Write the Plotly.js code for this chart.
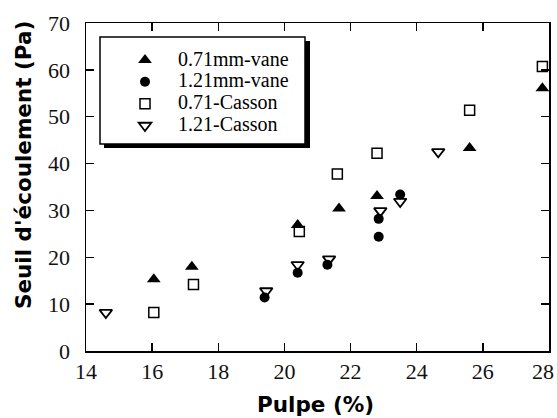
<!DOCTYPE html>
<html>
<head>
<meta charset="utf-8">
<script src="https://cdn.plot.ly/plotly-3.0.1.min.js"></script>
<style>html,body{margin:0;padding:0;background:#fff;}#chart{width:557px;height:418px;}</style>
</head>
<body>
<div id="chart"></div>
<script>
// Data
var seriesNames = ["0.71mm-vane", "1.21mm-vane", "0.71-Casson", "1.21-Casson"];

var vane071X = [16.05, 17.2, 20.4, 21.65, 22.8, 25.6, 27.8];
var vane071Y = [15.3, 18.0, 26.9, 30.4, 33.1, 43.3, 56.1];

var vane121X = [19.4, 20.4, 21.3, 22.85, 22.85, 23.5];
var vane121Y = [11.4, 16.7, 18.4, 24.4, 28.2, 33.4];

var casson071X = [16.05, 17.25, 20.45, 21.6, 22.8, 25.6, 27.8];
var casson071Y = [8.2, 14.2, 25.5, 37.8, 42.2, 51.4, 60.7];

var casson121X = [14.6, 19.45, 20.4, 21.35, 22.9, 23.5, 24.65];
var casson121Y = [8.2, 12.8, 18.4, 19.6, 29.9, 31.9, 42.5];

var xTicks = [14, 16, 18, 20, 22, 24, 26, 28];
var yTicks = [0, 10, 20, 30, 40, 50, 60, 70];
var xTitle = "Pulpe (%)";
var yTitle = "Seuil d'écoulement (Pa)";

// Layout geometry (pixels)
var W = 557, H = 418;
var M = {l: 86, r: 8, t: 23, b: 67};
var PW = W - M.l - M.r, PH = H - M.t - M.b;
function px(x) { return (x - M.l) / PW; }
function py(y) { return (H - M.b - y) / PH; }

var serif = "Liberation Serif, Times New Roman, serif";
var sans = "DejaVu Sans, sans-serif";

function legendLabel(s) {
  return "<span style=\"font-size:20px\">" + s + "</span>";
}

var traces = [
  {x: vane071X, y: vane071Y, name: legendLabel(seriesNames[0]), type: "scatter", mode: "markers",
   marker: {symbol: "triangle-up", size: 12, color: "#000"}, cliponaxis: false},
  {x: vane121X, y: vane121Y, name: legendLabel(seriesNames[1]), type: "scatter", mode: "markers",
   marker: {symbol: "circle", size: 10, color: "#000"}, cliponaxis: false},
  {x: casson071X, y: casson071Y, name: legendLabel(seriesNames[2]), type: "scatter", mode: "markers",
   marker: {symbol: "square-open", size: 10, color: "#000", line: {width: 1.5, color: "#000"}}, cliponaxis: false},
  {x: casson121X, y: casson121Y, name: legendLabel(seriesNames[3]), type: "scatter", mode: "markers",
   marker: {symbol: "triangle-down-open", size: 11, color: "#000", line: {width: 1.8, color: "#000"}}, cliponaxis: false}
];

var axisCommon = {
  showgrid: false, zeroline: false, showline: true, linecolor: "#000", linewidth: 1.5,
  mirror: "ticks", ticks: "inside", ticklen: 8, tickwidth: 1.5, tickcolor: "#000",
  tickfont: {family: serif, size: 22, color: "#111"}
};

// last x tick label is drawn as an annotation so it can sit inside the page edge
var xTickText = xTicks.map(function (v, i) { return i === xTicks.length - 1 ? "" : String(v); });

var layout = {
  width: W, height: H,
  margin: M,
  paper_bgcolor: "#fff", plot_bgcolor: "#fff",
  showlegend: true,
  legend: {
    x: px(100), y: py(44), xanchor: "left", yanchor: "top",
    bgcolor: "rgba(0,0,0,0)", borderwidth: 0,
    font: {family: serif, size: 14.5, color: "#000"},
    itemwidth: 56, indentation: 12, tracegroupgap: 0
  },
  xaxis: Object.assign({}, axisCommon, {range: [14, 28], tickvals: xTicks, ticktext: xTickText}),
  yaxis: Object.assign({}, axisCommon, {range: [0, 70], tickvals: yTicks, ticktext: yTicks.map(String), ticklabelstandoff: 10}),
  shapes: [
    {type: "rect", xref: "paper", yref: "paper", x0: px(104), x1: px(310), y0: py(148), y1: py(41),
     fillcolor: "#000", line: {width: 0}, layer: "above"},
    {type: "rect", xref: "paper", yref: "paper", x0: px(100), x1: px(305), y0: py(144), y1: py(37),
     fillcolor: "#fff", line: {width: 1.5, color: "#000"}, layer: "above"}
  ],
  annotations: [
    {text: String(xTicks[xTicks.length - 1]), xref: "x", yref: "paper", x: xTicks[xTicks.length - 1], y: py(371),
     xanchor: "right", yanchor: "middle", xshift: 7, showarrow: false,
     font: {family: serif, size: 22, color: "#111"}},
    {text: "<b>" + xTitle + "</b>", xref: "paper", yref: "paper", x: px(315), y: py(404),
     xanchor: "center", yanchor: "middle", showarrow: false,
     font: {family: sans, size: 21.5, color: "#000"}},
    {text: "<b>" + yTitle + "</b>", xref: "paper", yref: "paper", x: px(23), y: py(165),
     xanchor: "center", yanchor: "middle", showarrow: false, textangle: -90,
     font: {family: sans, size: 21.5, color: "#000"}}
  ]
};

Plotly.newPlot("chart", traces, layout, {displayModeBar: false, staticPlot: true});
</script>
</body>
</html>
